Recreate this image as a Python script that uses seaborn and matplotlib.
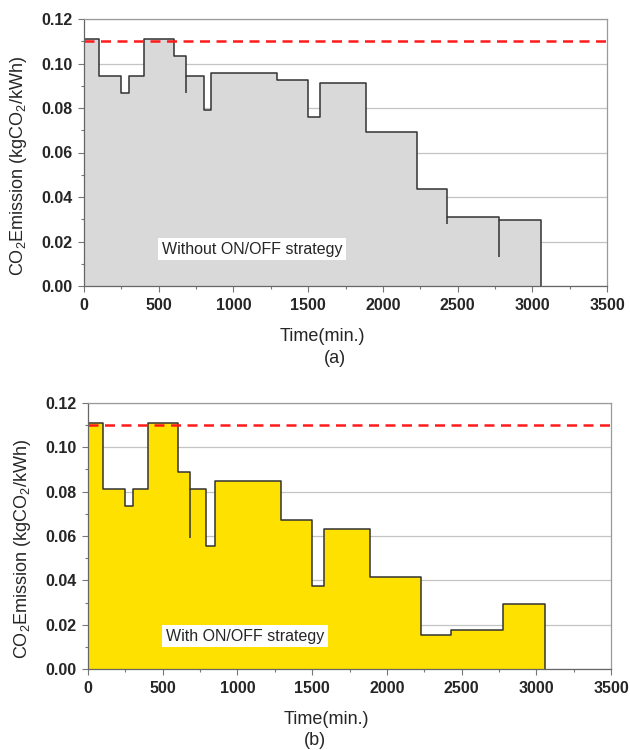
import numpy as np
import pandas as pd
import matplotlib
matplotlib.use("Agg")
import matplotlib.pyplot as plt
import seaborn as sns
from matplotlib.ticker import MultipleLocator, FormatStrFormatter

# ---------------- data ----------------
time_a = [0, 100, 250, 300, 400, 600, 680, 800, 850, 1290, 1500, 1580, 1890, 2230, 2430, 2780, 3060]
co2_a = [0.1110, 0.0944, 0.0866, 0.0944, 0.1110, 0.1034, 0.0944, 0.0791, 0.0956, 0.0924,
         0.0758, 0.0911, 0.0694, 0.0434, 0.0309, 0.0297, 0.0]
time_b = [0, 100, 250, 300, 400, 600, 680, 790, 850, 1290, 1500, 1580, 1890, 2230, 2430, 2780, 3060]
co2_b = [0.1108, 0.0812, 0.0735, 0.0812, 0.1110, 0.0887, 0.0812, 0.0555, 0.0848, 0.0671,
         0.0376, 0.0631, 0.0414, 0.0153, 0.0176, 0.0292, 0.0]
# overshoot spikes of the recorded trace (x, lower end, upper end)
spike_a_x = [680, 2430, 2780]
spike_a_lo = [0.0866, 0.0279, 0.0130]
spike_a_hi = [0.0944, 0.0309, 0.0297]
spike_b_x = [680]
spike_b_lo = [0.0590]
spike_b_hi = [0.0812]
reference_level = 0.110
xlim = (0, 3500)
ylim = (0, 0.12)
label_a = "Without ON/OFF strategy"
label_b = "With ON/OFF strategy"

# ---------------- style ----------------
sns.set_style("white")
plt.rcParams['font.family'] = ['Liberation Sans', 'DejaVu Sans']
plt.rcParams['mathtext.fontset'] = 'custom'
plt.rcParams['mathtext.rm'] = 'Liberation Sans'
plt.rcParams['mathtext.it'] = 'Liberation Sans'

fig = plt.figure(figsize=(6.3, 7.5), dpi=100)
ax_a = fig.add_axes([84/630, 1-286/750, 523/630, 267/750])
ax_b = fig.add_axes([88/630, 1-669/750, 523/630, 266/750])

panels = [
    (ax_a, time_a, co2_a, "#d9d9d9", spike_a_x, spike_a_lo, spike_a_hi, label_a, (1125, 0.0166), "(a)", (0.48, -0.27)),
    (ax_b, time_b, co2_b, "#ffe100", spike_b_x, spike_b_lo, spike_b_hi, label_b, (1051, 0.0147), "(b)", (0.434, -0.267)),
]

for ax, t, v, fc, sx, slo, shi, lab, lab_pos, tag, tag_pos in panels:
    df = pd.DataFrame({"Time": t, "CO2": v})
    ax.fill_between(df["Time"], df["CO2"], 0, step="post", color=fc, linewidth=0, zorder=1)
    sns.lineplot(data=df, x="Time", y="CO2", ax=ax, drawstyle="steps-post",
                 color="#333333", linewidth=1.1, zorder=3, estimator=None, sort=False)
    ax.vlines(sx, slo, shi, color="#333333", linewidth=1.1, zorder=3)
    ax.axhline(reference_level, color="#ff1a1a", linewidth=1.8, dashes=(4, 2.6), zorder=4)

    ax.set_xlim(*xlim)
    ax.set_ylim(*ylim)
    ax.xaxis.set_major_locator(MultipleLocator(500))
    ax.xaxis.set_minor_locator(MultipleLocator(250))
    ax.yaxis.set_major_locator(MultipleLocator(0.02))
    ax.yaxis.set_minor_locator(MultipleLocator(0.01))
    ax.yaxis.set_major_formatter(FormatStrFormatter("%.2f"))
    ax.grid(axis="y", which="major", color="#c4c4c4", linewidth=0.9, zorder=0)
    ax.set_axisbelow(True)
    ax.tick_params(axis="both", which="major", direction="out", length=4.5, width=0.8,
                   color="#777777", labelsize=11.5, pad=4)
    ax.tick_params(axis="both", which="minor", direction="out", length=2.5, width=0.8,
                   color="#777777")
    ax.tick_params(axis="both", which="both", bottom=True, left=True, top=False, right=False)
    for lbl in ax.get_xticklabels() + ax.get_yticklabels():
        lbl.set_fontweight("bold")
    for side in ["top", "right"]:
        ax.spines[side].set_color("#9a9a9a")
        ax.spines[side].set_linewidth(0.9)
    for side in ["left", "bottom"]:
        ax.spines[side].set_color("#666666")
        ax.spines[side].set_linewidth(0.9)
    for s in ax.spines.values():
        s.set_zorder(5)

    ax.set_xlabel("Time(min.)", fontsize=13)
    ax.xaxis.set_label_coords(0.455, -0.19)
    ax.xaxis.label.set_va("center")
    ax.set_ylabel(r"CO$_2$Emission (kgCO$_2$/kWh)", fontsize=13)
    ax.yaxis.set_label_coords(-0.126, 0.45)
    ax.yaxis.label.set_va("center")

    ax.text(lab_pos[0], lab_pos[1], lab, fontsize=11.5, ha="center", va="center", zorder=6,
            bbox=dict(facecolor="white", edgecolor="none", pad=2.5))
    ax.text(tag_pos[0], tag_pos[1], tag, fontsize=13, ha="center", va="center",
            transform=ax.transAxes)

fig.savefig("out.png", dpi=100)
